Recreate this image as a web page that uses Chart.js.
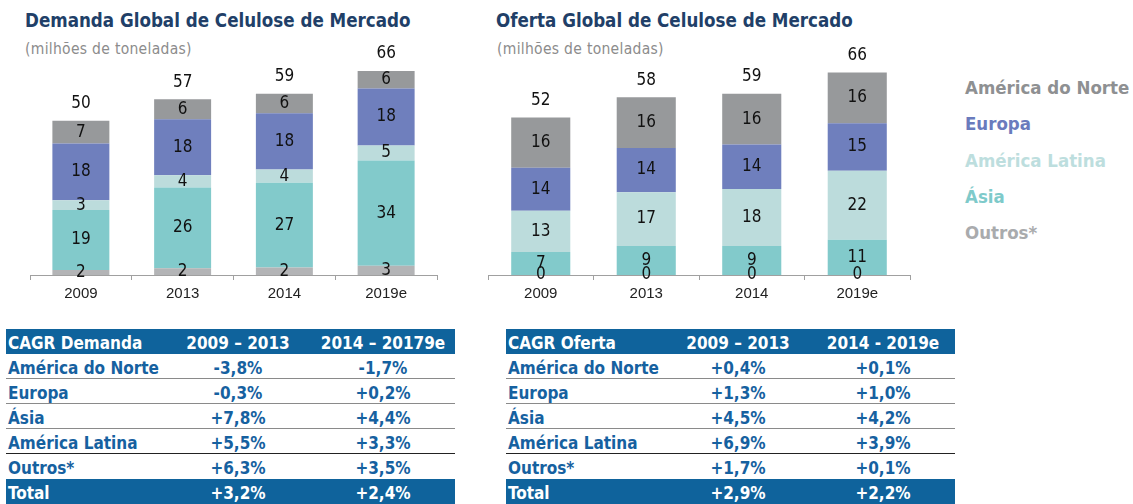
<!DOCTYPE html>
<html>
<head>
<meta charset="utf-8">
<script src="https://cdn.jsdelivr.net/npm/chart.js@4.4.1/dist/chart.umd.min.js"></script>
<style>
  body { margin: 0; width: 1133px; height: 504px; background: #fff; position: relative; overflow: hidden;
         font-family: "DejaVu Sans Condensed", "DejaVu Sans", sans-serif; }
  .titulo { position: absolute; font-weight: bold; font-size: 18.6px; color: #213f68; white-space: nowrap; }
  .sub { position: absolute; font-size: 15.5px; color: #8c8c8c; white-space: nowrap; letter-spacing: 0.3px; }
  .caixa { position: absolute; }
  .leg { position: absolute; left: 965px; font-weight: bold; font-size: 18.5px; white-space: nowrap; line-height: 20px; }
  .tab { position: absolute; width: 449px; font-weight: bold; font-size: 17px; }
  .lin { position: relative; height: 25px; line-height: 29px; color: #1661a0; border-bottom: 1.5px solid #8a8a8a; box-sizing: border-box; }
  .lin span { position: absolute; top: 0; white-space: nowrap; }
  .cab, .tot { background: #0f639c; color: #fff; border-bottom: none; }
</style>
</head>
<body>
<div class="titulo" style="left:25px;top:10px">Demanda Global de Celulose de Mercado</div>
<div class="sub" style="left:25px;top:40px">(milhões de toneladas)</div>
<div class="titulo" style="left:496px;top:10px">Oferta Global de Celulose de Mercado</div>
<div class="sub" style="left:497px;top:40px">(milhões de toneladas)</div>

<div class="caixa" style="left:0;top:40px"><canvas id="graficoDemanda" width="460" height="270"></canvas></div>
<div class="caixa" style="left:480px;top:40px"><canvas id="graficoOferta" width="450" height="270"></canvas></div>

<div id="legenda"></div>
<div class="tab" id="tabDemanda" style="left:6px;top:329px"></div>
<div class="tab" id="tabOferta" style="left:506px;top:329px"></div>

<script>
// categorias e séries (empilhadas de baixo para cima)
const anos = ['2009', '2013', '2014', '2019e'];
const regioes = ['Outros*', 'Ásia', 'América Latina', 'Europa', 'América do Norte'];
const cores = ['#b3b4b6', '#82cacb', '#bcdcdc', '#6f7fbd', '#97999b'];

// demanda (milhões de toneladas)
const demOutros = [1.6, 2.2, 2.4, 3.0];
const demAsia = [19.4, 26.1, 27.4, 34.0];
const demLatina = [3.2, 4.0, 4.3, 4.9];
const demEuropa = [18.3, 18.1, 18.2, 18.4];
const demNorte = [7.4, 6.4, 6.3, 5.7];
const demTotais = [50, 57, 59, 66];

// oferta (milhões de toneladas)
const ofeOutros = [0, 0, 0, 0];
const ofeAsia = [7.4, 9.4, 9.4, 11.4];
const ofeLatina = [13.4, 17.4, 18.4, 22.3];
const ofeEuropa = [13.9, 14.3, 14.4, 15.4];
const ofeNorte = [16.2, 16.4, 16.4, 16.4];
const ofeTotais = [52, 58, 59, 66];

// legenda
const legNomes = ['América do Norte', 'Europa', 'América Latina', 'Ásia', 'Outros*'];
const legCores = ['#8e9092', '#6a7bbd', '#bddede', '#7ecaca', '#a9abad'];

// tabelas CAGR
const linhasCagr = ['América do Norte', 'Europa', 'Ásia', 'América Latina', 'Outros*'];
const cabDemanda = ['CAGR Demanda', '2009 – 2013', '2014 – 20179e'];
const demPeriodo1 = ['-3,8%', '-0,3%', '+7,8%', '+5,5%', '+6,3%'];
const demPeriodo2 = ['-1,7%', '+0,2%', '+4,4%', '+3,3%', '+3,5%'];
const demTotal = ['Total', '+3,2%', '+2,4%'];
const cabOferta = ['CAGR Oferta', '2009 – 2013', '2014 - 2019e'];
const ofePeriodo1 = ['+0,4%', '+1,3%', '+4,5%', '+6,9%', '+1,7%'];
const ofePeriodo2 = ['+0,1%', '+1,0%', '+4,2%', '+3,9%', '+0,1%'];
const ofeTotal = ['Total', '+2,9%', '+2,2%'];

const rotulos = {
  id: 'rotulos',
  afterDatasetsDraw(chart, args, opts) {
    const ctx = chart.ctx;
    ctx.save();
    ctx.font = '17px "DejaVu Sans Condensed"';
    ctx.fillStyle = '#111';
    ctx.textAlign = 'center';
    ctx.textBaseline = 'middle';
    chart.data.datasets.forEach((ds, i) => {
      chart.getDatasetMeta(i).data.forEach((bar, j) => {
        const p = bar.getProps(['x', 'y', 'base'], true);
        ctx.fillText(Math.round(ds.data[j]), p.x, (p.y + p.base) / 2);
      });
    });
    const meta = chart.getDatasetMeta(0);
    opts.totais.forEach((t, j) => {
      let soma = 0;
      chart.data.datasets.forEach(ds => soma += ds.data[j]);
      const y = chart.scales.y.getPixelForValue(soma);
      ctx.fillText(t, meta.data[j].x, y - 17);
    });
    ctx.restore();
  }
};

function desenha(id, series, totais, esq, dir) {
  new Chart(document.getElementById(id), {
    type: 'bar',
    data: {
      labels: anos,
      datasets: series.map((s, i) => ({
        label: regioes[i], data: s, backgroundColor: cores[i],
        barPercentage: 0.56, categoryPercentage: 1
      }))
    },
    options: {
      responsive: false,
      animation: false,
      layout: { padding: { left: esq, right: dir, top: 0, bottom: 0 } },
      plugins: { legend: { display: false }, tooltip: { enabled: false }, rotulos: { totais: totais } },
      scales: {
        x: {
          stacked: true,
          grid: { offset: true, drawOnChartArea: false, tickLength: 5, color: '#a0a0a0' },
          border: { color: '#a0a0a0' },
          ticks: { color: '#222', padding: 5, font: { family: '"Liberation Sans"', size: 15 } },
          afterFit: s => { s.height = 35; }
        },
        y: { stacked: true, display: false, min: 0, max: 76 }
      }
    },
    plugins: [rotulos]
  });
}

desenha('graficoDemanda', [demOutros, demAsia, demLatina, demEuropa, demNorte], demTotais, 30, 23);
desenha('graficoOferta', [ofeOutros, ofeAsia, ofeLatina, ofeEuropa, ofeNorte], ofeTotais, 8, 20);

// legenda à direita
const leg = document.getElementById('legenda');
const legY = [78, 114, 151, 187, 223];
legNomes.forEach((n, i) => {
  const d = document.createElement('div');
  d.className = 'leg';
  d.style.top = legY[i] + 'px';
  d.style.color = legCores[i];
  d.textContent = n;
  leg.appendChild(d);
});

function linha(el, cls, c) {
  const d = document.createElement('div');
  d.className = 'lin ' + cls;
  const pos = [0, 232, 377];
  c.forEach((t, k) => {
    const s = document.createElement('span');
    s.textContent = t;
    if (k === 0) s.style.left = '2px';
    else { s.style.left = pos[k] + 'px'; s.style.transform = 'translateX(-50%)'; }
    d.appendChild(s);
  });
  el.appendChild(d);
  return d;
}

function tabela(id, cab, p1, p2, tot) {
  const el = document.getElementById(id);
  linha(el, 'cab', cab);
  linhasCagr.forEach((n, i) => {
    const d = linha(el, '', [n, p1[i], p2[i]]);
    if (i === 3) d.style.borderBottomColor = '#222';
    if (i === 4) d.style.borderBottom = 'none';
  });
  linha(el, 'tot', tot);
}
tabela('tabDemanda', cabDemanda, demPeriodo1, demPeriodo2, demTotal);
tabela('tabOferta', cabOferta, ofePeriodo1, ofePeriodo2, ofeTotal);
</script>
</body>
</html>
